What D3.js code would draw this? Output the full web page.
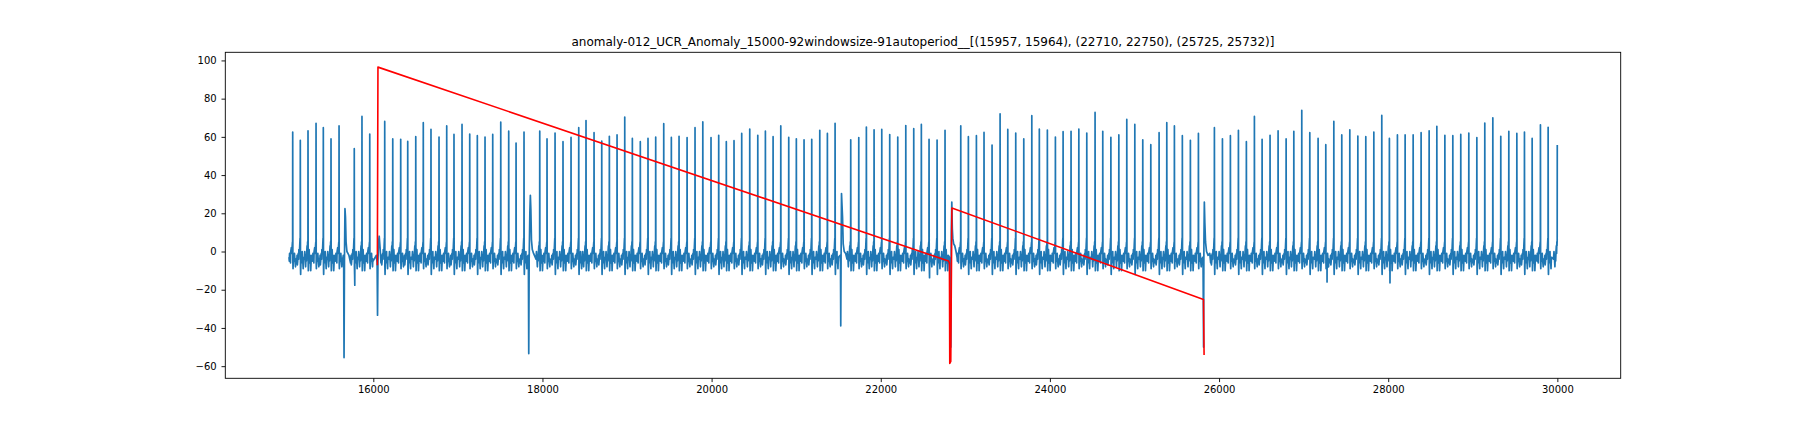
<!DOCTYPE html>
<html>
<head>
<meta charset="utf-8">
<script src="https://cdnjs.cloudflare.com/ajax/libs/d3/7.8.5/d3.min.js"></script>
<style>
  body { margin: 0; background: #fff; }
  svg { display: block; background: #fff; }
</style>
</head>
<body>
<svg id="chart" width="1800" height="432"></svg>
<script>
// chart text + ticks
var title = "anomaly-012_UCR_Anomaly_15000-92windowsize-91autoperiod__[(15957, 15964), (22710, 22750), (25725, 25732)]";
var xTicks = [16000, 18000, 20000, 22000, 24000, 26000, 28000, 30000];
var yTicks = [-60, -40, -20, 0, 20, 40, 60, 80, 100];
var seriesFirst = 15000, seriesLast = 29999;

// R peaks of the normal beats (sample index, height)
var beatIdx = [
  15047, 15137, 15228, 15323, 15409, 15500, 15595, 15775, 15866, 15958,
  16135, 16230, 16324, 16407, 16502, 16591, 16682, 16777, 16868, 16954,
  17049, 17140, 17230, 17321, 17412, 17507, 17601, 17688, 17782, 17968,
  18054, 18149, 18243, 18338, 18429, 18515, 18610, 18701, 18791, 18882,
  18973, 19063, 19157, 19248, 19339, 19434, 19524, 19615, 19710, 19804,
  19896, 19993, 20084, 20174, 20265, 20356, 20451, 20546, 20636, 20727,
  20818, 20912, 21002, 21093, 21184, 21279, 21369, 21460, 21645, 21740,
  21830, 21921, 22012, 22106, 22201, 22296, 22390, 22480, 22571, 22666,
  22760, 22946, 23036, 23131, 23221, 23316, 23411, 23502, 23596, 23691,
  23786, 23875, 23970, 24065, 24156, 24250, 24342, 24436, 24534, 24625,
  24721, 24815, 24909, 25004, 25098, 25193, 25291, 25382, 25472, 25566,
  25661, 25756, 25945, 26040, 26134, 26229, 26323, 26418, 26509, 26603,
  26698, 26793, 26884, 26978, 27073, 27171, 27262, 27357, 27451, 27546,
  27641, 27735, 27830, 27924, 28014, 28109, 28200, 28295, 28389, 28484,
  28575, 28670, 28764, 28858, 28953, 29048, 29142, 29237, 29331, 29426,
  29521, 29611, 29702, 29800, 29891, 29999
];
var beatPeak = [
  62.5, 58.2, 63.2, 67.1, 64.8, 58.9, 65.7, 53.8, 70.7, 61.5,
  68.1, 58.9, 58.7, 57.6, 60.1, 67.4, 63.9, 59.9, 65.7, 61.3,
  66.5, 61.5, 60.6, 59.9, 61.3, 67.7, 63.0, 56.8, 62.5, 63.0,
  58.9, 62.0, 57.5, 59.7, 64.8, 68.5, 62.2, 57.8, 60.3, 61.0,
  70.4, 59.2, 57.5, 59.2, 59.9, 66.9, 59.7, 60.3, 59.6, 64.8,
  67.8, 59.6, 60.8, 57.5, 58.0, 61.8, 64.1, 60.8, 63.0, 60.1,
  65.7, 59.7, 59.0, 58.5, 58.7, 63.4, 61.8, 67.1, 58.5, 59.6,
  65.1, 63.7, 63.9, 61.2, 59.9, 65.9, 64.3, 66.5, 58.7, 58.3,
  63.4, 65.8, 60.1, 60.6, 62.3, 55.7, 72.1, 63.9, 62.0, 59.0,
  71.1, 64.1, 63.6, 59.9, 62.7, 62.9, 64.1, 62.0, 72.8, 62.9,
  59.8, 61.0, 69.1, 66.5, 58.5, 55.9, 62.2, 67.4, 65.7, 60.6,
  58.2, 61.8, 64.8, 59.0, 60.6, 63.4, 57.5, 70.7, 58.7, 60.8,
  63.2, 58.9, 62.9, 73.9, 62.2, 59.2, 55.9, 68.1, 61.0, 63.7,
  60.4, 60.1, 62.5, 71.2, 59.2, 61.0, 61.0, 61.0, 62.2, 63.2,
  65.5, 60.8, 60.6, 61.3, 62.0, 59.6, 67.2, 70.0, 60.3, 62.9,
  61.8, 62.5, 59.2, 66.3, 65.0, 55.7
];

// shapes of the wiggle around one beat: [offset from R peak, value]; offset 0 takes the peak
var beatShapeA = [[-44, -3], [-40, -5], [-37, -1], [-30, -3], [-26, -6], [-23, 0], [-16, 2], [-13, -1], [-10, 1], [-6, 3], [-3, 5], [-1, 2],
  [0, 0], [2, -6], [4, -9], [7, -4], [11, -2], [14, -5], [16, -4], [21, -1], [24, -3], [27, -5], [33, -8], [36, -4], [39, -5]];
var beatShapeB = [[-44, -6], [-38, -2], [-35, -7], [-31, -5], [-24, -1], [-20, -4], [-17, 1], [-11, -1], [-8, 2], [-6, 4], [-3, 7], [-1, 3],
  [0, 0], [2, -8], [4, -12], [7, -5], [12, -1], [15, -4], [17, -3], [22, 0], [25, -6], [28, -4], [34, -9], [37, -5], [39, -3]];
var beatShapeC = [[-44, -4], [-39, 0], [-34, -3], [-28, -8], [-23, -2], [-19, -5], [-15, 0], [-11, 3], [-8, -1], [-5, 5], [-3, 3], [-1, 6],
  [0, 0], [2, -5], [4, -10], [6, -7], [9, -2], [13, 1], [17, -3], [21, -6], [25, -2], [29, -4], [32, -10], [36, -6], [39, -2]];
var beatShapes = [beatShapeA, beatShapeB, beatShapeC];

// the odd beats (deep dip then broad bump), absolute [index, value]
var oddBeats = [
  [[15645, -2], [15650, -8], [15654, -55.5], [15659, -5], [15665, 22.4], [15671, 18], [15678, 5], [15688, 0], [15700, -1], [15712, -2]],
  [[16035, -2], [16045, -6], [16050, -33.3], [16055, -5], [16062, 5], [16070, 8], [16080, 2]],
  [[17830, -2], [17834, -8], [17838, -53.4], [17843, -4], [17851, 20], [17857, 29.4], [17863, 22], [17870, 6], [17880, 1], [17895, -1]],
  [[21520, -2], [21524, -6], [21527, -38.9], [21531, -3], [21536, 30.3], [21542, 24], [21548, 18], [21556, 4], [21568, 0], [21585, -1]],
  [[22812, -3], [22818, -8], [22828, -50], [22834, 10], [22840, 25.9], [22846, 12], [22852, 7], [22862, 4], [22875, 3], [22890, 0]],
  [[25806, -3], [25811, -8], [25817, -50], [25821, 5], [25826, 25.9], [25832, 15], [25840, 5], [25852, 0], [25870, -2], [25890, -1]]
];
var extraDips = [[15781, -17.6], [22577, -13.7], [27277, -15.9], [28021, -16.4]];

// red anomaly trace
var anomalyIdx = [16048, 16055, 22801, 22812, 22816, 22828, 22841, 25816, 25823];
var anomalyVal = [-7.2, 96.5, -5.0, -6.0, -58.6, -57.5, 22.8, -25.1, -54.2];

var svg = d3.select("#chart");
var axLeft = 225.3, axRight = 1620.7, axTop = 52.3, axBottom = 378.3;

// assemble the blue series
var series = [];
var oddRanges = oddBeats.map(function (b) { return [b[0][0], b[b.length - 1][0]]; });
function inOdd(i) {
  return oddRanges.some(function (r) { return i >= r[0] && i <= r[1]; });
}
beatIdx.forEach(function (r, k) {
  var shape = beatShapes[k % beatShapes.length];
  shape.forEach(function (p) {
    var i = r + p[0];
    if (i < seriesFirst || i > seriesLast || inOdd(i)) return;
    series.push([i, p[0] === 0 ? beatPeak[k] : p[1]]);
  });
});
oddBeats.forEach(function (b) { b.forEach(function (p) { series.push(p); }); });
extraDips.forEach(function (p) { series.push(p); });
series.sort(function (a, b) { return a[0] - b[0]; });

var redPts = anomalyIdx.map(function (d, i) { return [d, anomalyVal[i]]; });

// matplotlib style 5% margins
var xExt = [seriesFirst, seriesLast];
var yExt = d3.extent(series.concat(redPts), function (d) { return d[1]; });
var xPad = (xExt[1] - xExt[0]) * 0.05, yPad = (yExt[1] - yExt[0]) * 0.05;
var x = d3.scaleLinear().domain([xExt[0] - xPad, xExt[1] + xPad]).range([axLeft, axRight]);
var y = d3.scaleLinear().domain([yExt[0] - yPad, yExt[1] + yPad]).range([axBottom, axTop]);

var line = d3.line()
  .x(function (d) { return x(d[0]); })
  .y(function (d) { return y(d[1]); });

svg.append("path")
  .datum(series)
  .attr("fill", "none")
  .attr("stroke", "#1f77b4")
  .attr("stroke-width", 1.7)
  .attr("stroke-linejoin", "round")
  .attr("d", line);

svg.append("path")
  .datum(redPts)
  .attr("fill", "none")
  .attr("stroke", "#ff0000")
  .attr("stroke-width", 1.6)
  .attr("stroke-linejoin", "round")
  .attr("d", line);

// axes
var fmt = d3.format("d");
var xAxis = svg.append("g")
  .attr("transform", "translate(0," + axBottom + ")")
  .call(d3.axisBottom(x).tickValues(xTicks).tickFormat(fmt).tickSizeInner(3.8).tickSizeOuter(0).tickPadding(3.6));
var yAxis = svg.append("g")
  .attr("transform", "translate(" + axLeft + ",0)")
  .call(d3.axisLeft(y).tickValues(yTicks).tickFormat(function (d) { return d < 0 ? "\u2212" + Math.abs(d) : "" + d; })
    .tickSizeInner(3.8).tickSizeOuter(0).tickPadding(4.8));

[xAxis, yAxis].forEach(function (g) {
  g.select(".domain").remove();
  g.attr("font-family", "'DejaVu Sans', sans-serif").attr("font-size", 10);
  g.selectAll(".tick line").attr("stroke", "#000").attr("stroke-width", 0.9);
  g.selectAll(".tick text").attr("fill", "#000");
});

// frame
svg.append("rect")
  .attr("x", axLeft).attr("y", axTop)
  .attr("width", axRight - axLeft).attr("height", axBottom - axTop)
  .attr("fill", "none")
  .attr("stroke", "#000")
  .attr("stroke-width", 0.9);

svg.append("text")
  .attr("x", (axLeft + axRight) / 2)
  .attr("y", 46)
  .attr("text-anchor", "middle")
  .attr("font-family", "'DejaVu Sans', sans-serif")
  .attr("font-size", 12)
  .attr("fill", "#000")
  .text(title);
</script>
</body>
</html>
